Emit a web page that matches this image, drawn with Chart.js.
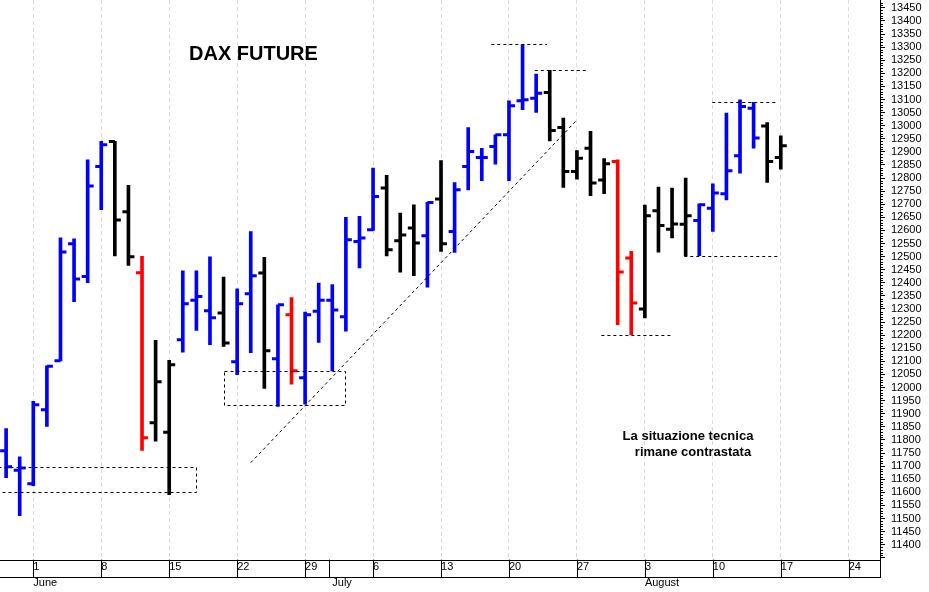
<!DOCTYPE html>
<html><head><meta charset="utf-8">
<script src="https://cdn.jsdelivr.net/npm/chart.js@4.4.0/dist/chart.umd.min.js"></script>
<style>html,body{margin:0;padding:0;background:#fff}#wrap{width:929px;height:592px}</style>
</head><body><div id="wrap"><canvas id="c"></canvas></div>
<script>
// trading-day index (0 = Mon 1 June)
const dayIndex = [-2,-1,0,1,2,3,4,5,6,7,8,9,10,11,12,13,14,15,16,17,18,19,20,21,22,23,24,25,26,27,28,29,30,31,32,33,34,35,36,37,38,39,40,41,42,43,44,45,46,47,48,49,50,51,52,53,54,55];
const openV  = [11759,11684,11633,11915,12102,12549,12424,12844,12940,12671,12438,11866,11829,12183,12333,12293,12285,12099,12358,12437,12110,12278,12037,12291,12333,12270,12558,12603,12762,12561,12609,12580,12720,12596,12844,12879,12921,12965,13095,13105,13127,12993,12825,12914,12793,12863,12495,12300,12675,12605,12624,12638,12685,12740,12885,13067,12999,12879];
const highV  = [11843,11735,11947,12083,12572,12568,12870,12940,12940,12772,12501,12180,12104,12446,12446,12499,12422,12377,12596,12497,12316,12344,12288,12399,12393,12650,12654,12838,12810,12666,12698,12707,12867,12783,12993,12914,12965,13095,13309,13197,13211,13029,12905,12978,12874,12870,12520,12697,12766,12762,12800,12702,12778,13048,13099,13089,13012,12961];
const lowV   = [11656,11511,11625,11852,12102,12328,12401,12679,12503,12466,11760,11795,11591,12135,12218,12164,12157,12049,12133,11997,11928,12013,11937,12172,12064,12215,12457,12600,12503,12441,12427,12383,12520,12516,12755,12790,12853,12790,13061,13051,12942,12764,12796,12733,12740,12240,12202,12266,12517,12571,12504,12504,12596,12717,12819,12914,12783,12834];
const closeV = [11698,11693,11934,12081,12518,12415,12770,12927,12640,12500,11808,12022,12087,12320,12348,12267,12170,12320,12427,12141,12316,12064,12278,12333,12296,12564,12571,12730,12526,12583,12552,12707,12549,12755,12901,12879,12965,13076,13099,13124,12982,12825,12876,12781,12855,12441,12323,12656,12619,12625,12656,12698,12743,12828,13073,12953,12863,12923];
const barKind = "BBBBBBBBKKRKKBBBKBBKBRBBBBBBKKKBKBBBBBBBKKKKKRRKKKKBBBBBKK";
const weekTicks = [0,5,10,15,20,25,30,35,40,45,50,55,60];
const weekLabels = ["1","8","15","22","29","6","13","20","27","3","10","17","24"];
const monthTicks = [0,22,45];
const monthLabels = ["June","July","August"];

const colorOf = k => k==='B' ? '#0000ff' : (k==='R' ? '#ff0000' : '#000000');
const colors = barKind.split('').map(colorOf);

const annot = {
  boxes: [[-2.6,11695,11.95,11600],[14.0,12064,22.9,11935]],
  trend: [[16.0,11713],[40.0,13022]],
  hlines: [[33.7,37.8,13311],[36.9,40.7,13211],[41.8,46.9,12202],[49.96,54.8,13089],[47.9,54.8,12504]]
};

const ohlcPlugin = {
  id:'ohlc',
  afterDatasetsDraw(chart){
    const ctx=chart.ctx, x=chart.scales.x, y=chart.scales.y, a=chart.chartArea;
    ctx.save();
    ctx.lineWidth=3;
    for(let i=0;i<dayIndex.length;i++){
      const px=x.getPixelForValue(dayIndex[i]);
      ctx.strokeStyle=colors[i];
      ctx.beginPath();
      ctx.moveTo(px-6,y.getPixelForValue(openV[i])); ctx.lineTo(px,y.getPixelForValue(openV[i]));
      ctx.moveTo(px,y.getPixelForValue(closeV[i])); ctx.lineTo(px+6,y.getPixelForValue(closeV[i]));
      ctx.stroke();
    }
    ctx.lineWidth=1; ctx.strokeStyle='#000'; ctx.setLineDash([3,3]);
    annot.boxes.forEach(b=>{
      const x1=x.getPixelForValue(b[0]),y1=y.getPixelForValue(b[1]),x2=x.getPixelForValue(b[2]),y2=y.getPixelForValue(b[3]);
      ctx.strokeRect(Math.round(x1)+.5,Math.round(y1)+.5,Math.round(x2-x1),Math.round(y2-y1));
    });
    ctx.beginPath();
    ctx.moveTo(x.getPixelForValue(annot.trend[0][0]),y.getPixelForValue(annot.trend[0][1]));
    ctx.lineTo(x.getPixelForValue(annot.trend[1][0]),y.getPixelForValue(annot.trend[1][1]));
    annot.hlines.forEach(h=>{
      const py=Math.round(y.getPixelForValue(h[2]))+.5;
      ctx.moveTo(x.getPixelForValue(h[0]),py); ctx.lineTo(x.getPixelForValue(h[1]),py);
    });
    ctx.stroke();
    ctx.setLineDash([]);
    ctx.fillStyle='#000';
    ctx.font='bold 20px "Liberation Sans", Arial, sans-serif';
    ctx.textAlign='left'; ctx.textBaseline='middle';
    ctx.fillText('DAX FUTURE',189,54);
    ctx.font='bold 13px "Liberation Sans", Arial, sans-serif';
    ctx.textAlign='center';
    ctx.fillText('La situazione tecnica',688,436);
    ctx.fillText('rimane contrastata',693,452);
    ctx.strokeStyle='#000'; ctx.lineWidth=1;
    ctx.beginPath();
    ctx.moveTo(0,Math.round(a.bottom)+.5); ctx.lineTo(a.right,Math.round(a.bottom)+.5);
    ctx.moveTo(0,577.5); ctx.lineTo(a.right,577.5);
    ctx.moveTo(Math.round(a.right)+.5,0); ctx.lineTo(Math.round(a.right)+.5,578);
    for(let v=11350; v<=13470; v+=10){
      if(v%50===0) continue;
      const py=Math.round(y.getPixelForValue(v))+.5;
      if(py<a.top||py>a.bottom) continue;
      ctx.moveTo(a.right,py); ctx.lineTo(a.right+3,py);
    }
    weekTicks.forEach(t=>{const px=Math.round(x.getPixelForValue(t))+.5; ctx.moveTo(px,a.bottom); ctx.lineTo(px,577);});
    const jx=Math.round(x.getPixelForValue(22))-2.5; ctx.moveTo(jx,a.bottom); ctx.lineTo(jx,577);
    ctx.stroke();
    ctx.restore();
  }
};

const FONT='"Liberation Sans", Arial, sans-serif';
new Chart(document.getElementById('c'),{
  type:'bar',
  data:{labels:dayIndex,datasets:[{
    data:dayIndex.map((d,i)=>({x:d,y:[lowV[i],highV[i]]})),
    backgroundColor:colors, barThickness:3, borderWidth:0, grouped:false
  }]},
  options:{
    responsive:true, maintainAspectRatio:false, animation:false,
    layout:{padding:{top:0,right:0,left:0,bottom:0}},
    plugins:{legend:{display:false},tooltip:{enabled:false}},
    scales:{
      x:{type:'linear', min:-2.45, max:62.3, position:'bottom', offset:false,
        afterBuildTicks(s){s.ticks=weekTicks.map(v=>({value:v}));},
        ticks:{autoSkip:false, maxRotation:0, align:'start', padding:1,
          font:{family:FONT,size:11}, color:'#000',
          callback:(v)=>weekLabels[weekTicks.indexOf(v)] ?? ''},
        grid:{color:'#d8d8e8', drawTicks:false, lineWidth:1, offset:false},
        border:{display:false, dash:[4,3]}
      },
      m:{type:'linear', min:-2.45, max:62.3, position:'bottom', offset:false,
        afterBuildTicks(s){s.ticks=monthTicks.map(v=>({value:v}));},
        ticks:{autoSkip:false, maxRotation:0, align:'start', padding:2,
          font:{family:FONT,size:11}, color:'#000',
          callback:(v)=>monthLabels[monthTicks.indexOf(v)] ?? ''},
        grid:{display:false, drawTicks:false, offset:false}, border:{display:false}
      },
      y:{position:'right', min:11343, max:13480,
        afterBuildTicks(s){const t=[];for(let v=11350;v<=13450;v+=50)t.push({value:v});s.ticks=t;},
        afterFit(s){s.width=49; s.paddingTop=0; s.paddingBottom=0;},
        ticks:{autoSkip:false, padding:6, font:{family:FONT,size:11}, color:'#000',
          callback:(v)=> v>=11400 ? String(v) : ''},
        grid:{drawOnChartArea:false, tickLength:5, tickColor:'#000'},
        border:{display:true,color:'#000'}
      }
    }
  },
  plugins:[ohlcPlugin]
});
</script></body></html>
